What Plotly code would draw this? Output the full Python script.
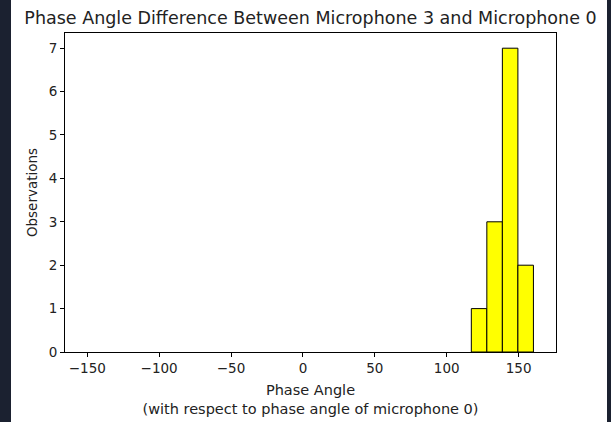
import plotly.graph_objects as go

# Data
bin_edges = [117.1, 127.9, 138.7, 149.5, 160.3]
counts = [1, 3, 7, 2]
x_tick_vals = [-150, -100, -50, 0, 50, 100, 150]
x_tick_text = ["\u2212150", "\u2212100", "\u221250", "0", "50", "100", "150"]
y_tick_vals = [0, 1, 2, 3, 4, 5, 6, 7]

centers = [(a + b) / 2 for a, b in zip(bin_edges[:-1], bin_edges[1:])]
widths = [b - a for a, b in zip(bin_edges[:-1], bin_edges[1:])]

W, H = 611, 422
ml, mr, mt, mb = 65, 55, 33, 70
pw, ph = W - ml - mr, H - mt - mb

fig = go.Figure()
fig.add_trace(go.Bar(
    x=centers, y=counts, width=widths,
    marker=dict(color="#ffff00", line=dict(color="black", width=1)),
))

font = "DejaVu Sans, sans-serif"
fig.update_layout(
    width=W, height=H,
    margin=dict(l=ml, r=mr, t=mt, b=mb),
    paper_bgcolor="#1b2130",
    plot_bgcolor="white",
    showlegend=False,
    font=dict(family=font, size=13.5, color="#222222"),
    title=dict(text="Phase Angle Difference Between Microphone 3 and Microphone 0",
               x=(ml + pw / 2) / W, xanchor="center", y=1 - 18 / H, yanchor="middle",
               font=dict(size=17.5, family=font, color="#222222")),
    xaxis=dict(range=[-165.5, 176], tickvals=x_tick_vals, ticktext=x_tick_text,
               ticks="outside", ticklen=4, tickcolor="black", showgrid=False,
               tickfont=dict(size=13.5), automargin=False,
               zeroline=False, showline=True, linecolor="black", linewidth=1, mirror=True,
               title=dict(text="Phase Angle<br>(with respect to phase angle of microphone 0)",
                          font=dict(size=14.5), standoff=9)),
    yaxis=dict(range=[0, 7.35], tickvals=y_tick_vals,
               ticks="outside", ticklen=4, tickcolor="black", showgrid=False,
               tickfont=dict(size=13.5), automargin=False,
               zeroline=False, showline=True, linecolor="black", linewidth=1, mirror=True,
               title=dict(text="Observations", font=dict(size=13.5), standoff=7)),
    shapes=[dict(type="rect", xref="paper", yref="paper", layer="below",
                 x0=(11 - ml) / pw, x1=(607 - ml) / pw,
                 y0=-mb / ph - 0.01, y1=1 + mt / ph + 0.01,
                 fillcolor="white", line=dict(width=0))],
)

fig.write_html("out.html")
